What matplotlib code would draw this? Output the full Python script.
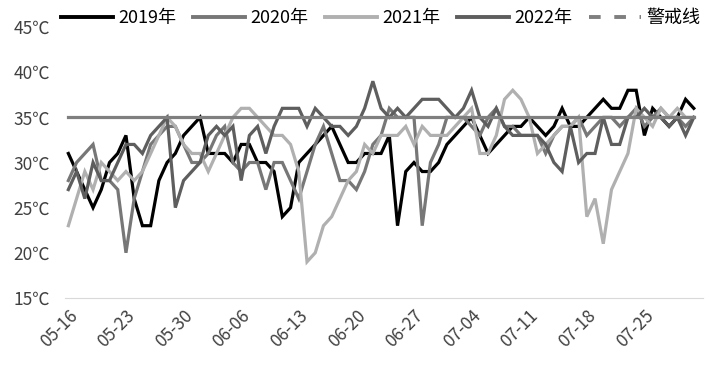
import matplotlib
matplotlib.use("Agg")
import matplotlib.pyplot as plt
from matplotlib.lines import Line2D
import numpy as np
import pandas as pd

plt.rcParams['font.family'] = ['Noto Sans CJK SC', 'DejaVu Sans']

# daily max temperature, 05-16 .. 07-31
dates = pd.date_range('2022-05-16', '2022-07-31').strftime('%m-%d').tolist()

t2019 = [31, 29, 27, 25, 27, 30, 31, 33, 26, 23, 23, 28, 30, 31, 33, 34, 35, 31, 31, 31,
         30, 32, 32, 30, 30, 29, 24, 25, 30, 31, 32, 33, 34, 32, 30, 30, 31, 31, 31, 33,
         23, 29, 30, 29, 29, 30, 32, 33, 34, 35, 33, 31, 32, 33, 34, 34, 35, 34, 33, 34,
         36, 34, 34, 35, 36, 37, 36, 36, 38, 38, 33, 36, 35, 34, 35, 37, 36]
t2020 = [28, 30, 31, 32, 28, 28, 27, 20, 26, 29, 32, 33, 34, 34, 32, 30, 30, 31, 33, 34,
         30, 29, 30, 30, 27, 30, 30, 28, 26, 29, 32, 34, 31, 28, 28, 27, 29, 32, 33, 36,
         35, 35, 35, 23, 30, 32, 35, 35, 35, 34, 33, 35, 36, 34, 34, 33, 33, 33, 31, 33,
         34, 34, 35, 33, 34, 35, 35, 34, 35, 36, 34, 35, 36, 35, 35, 34, 35]
t2021 = [23, 26, 29, 27, 30, 29, 28, 29, 28, 29, 31, 33, 35, 34, 32, 31, 31, 29, 31, 33,
         35, 36, 36, 35, 34, 33, 33, 32, 29, 19, 20, 23, 24, 26, 28, 29, 32, 31, 33, 33,
         33, 34, 32, 34, 33, 33, 33, 34, 35, 36, 31, 31, 33, 37, 38, 37, 35, 31, 32, 33,
         34, 34, 35, 24, 26, 21, 27, 29, 31, 36, 35, 34, 36, 35, 36, 35, 35]
t2022 = [27, 29, 26, 30, 28, 28, 30, 32, 32, 31, 33, 34, 35, 25, 28, 29, 30, 33, 34, 33,
         34, 28, 33, 34, 31, 34, 36, 36, 36, 34, 36, 35, 34, 34, 33, 34, 36, 39, 36, 35,
         36, 35, 36, 37, 37, 37, 36, 35, 36, 38, 35, 34, 36, 34, 33, 33, 33, 33, 32, 30,
         29, 34, 30, 31, 31, 35, 32, 32, 35, 35, 36, 35, 35, 34, 35, 33, 35]
warn_level = 35

series = [('2019年', t2019, '#000000'),
          ('2020年', t2020, '#777777'),
          ('2021年', t2021, '#b0b0b0'),
          ('2022年', t2022, '#5e5e5e')]

fig = plt.figure(figsize=(7.15, 3.71), dpi=100)
ax = fig.add_axes([0.091, 0.197, 0.892, 0.73])

x = np.arange(len(dates))
for name, vals, c in series:
    ax.plot(x, vals, color=c, lw=2.3, solid_joinstyle='miter')
ax.plot(x, np.full(len(dates), warn_level), color='#7f7f7f', lw=2.3)

ax.set_ylim(15, 45)
ax.set_yticks(range(15, 46, 5))
ax.set_yticklabels([f'{v}℃' for v in range(15, 46, 5)], fontsize=12.5, color='#404040')
ax.set_xlim(-0.4, 77.1)
ax.set_xticks(x[::7])
ax.set_xticklabels(dates[::7], rotation=45, ha='right', rotation_mode='anchor',
                   fontsize=12.5, color='#404040')
ax.tick_params(length=0)
ax.tick_params(axis='x', pad=6)
ax.tick_params(axis='y', pad=11)
for s in ['top', 'right', 'left']:
    ax.spines[s].set_visible(False)
ax.spines['bottom'].set_color('#d9d9d9')

handles = [Line2D([], [], color=c, lw=2.8) for _, _, c in series]
handles.append(Line2D([], [], color='#7f7f7f', lw=2.8, ls=(0, (3, 3.5))))
labels = [n for n, _, _ in series] + ['警戒线']
fig.legend(handles, labels, loc='center left', bbox_to_anchor=(0.085, 0.951),
           ncol=5, frameon=False, fontsize=13, handlelength=2.9, handletextpad=0.3,
           columnspacing=0.9, borderaxespad=0, borderpad=0)

fig.savefig('out.png', dpi=100, facecolor='white')
